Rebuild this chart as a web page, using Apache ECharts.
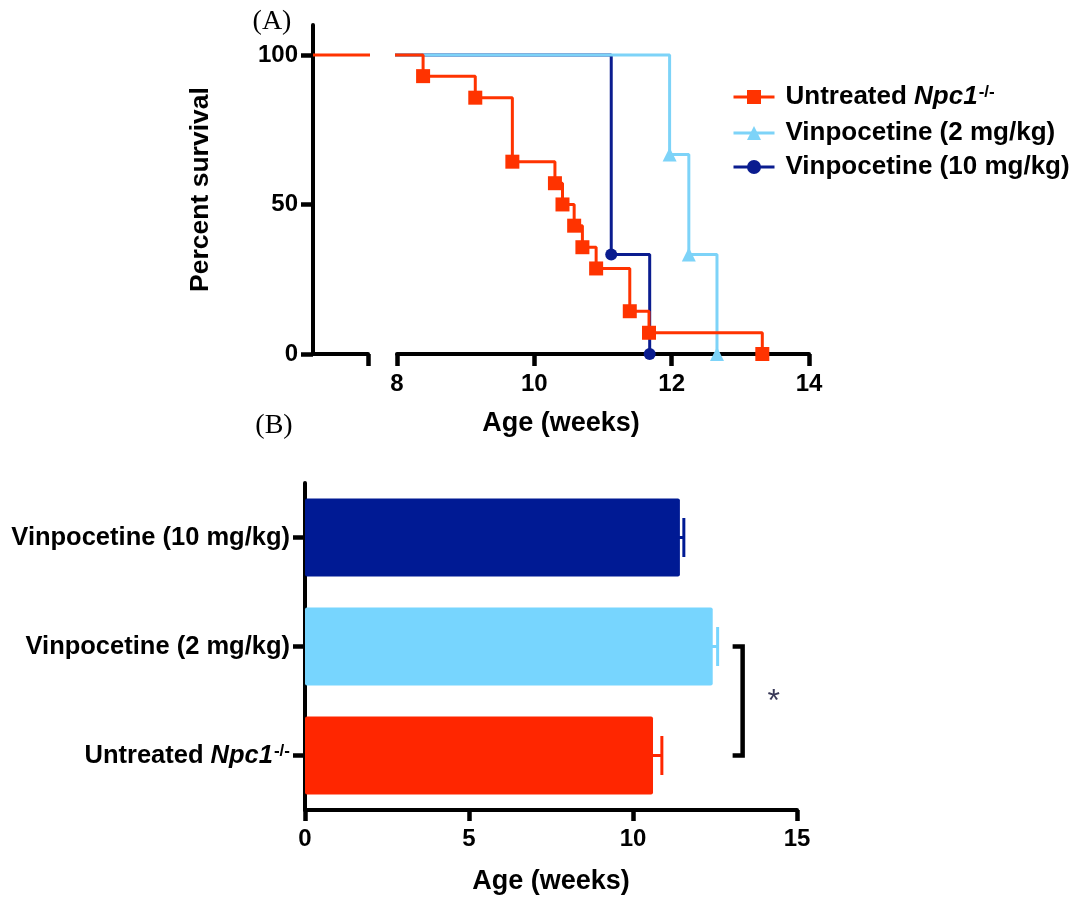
<!DOCTYPE html>
<html><head><meta charset="utf-8">
<script src="https://cdn.jsdelivr.net/npm/echarts@6/dist/echarts.min.js"></script>
<style>html,body{margin:0;padding:0;background:#fff}#c{width:1083px;height:897px}</style>
</head><body><div id="c"></div>
<script>
// ---- data ----
const groupNames = ['Untreated Npc1-/-', 'Vinpocetine (2 mg/kg)', 'Vinpocetine (10 mg/kg)'];
// Kaplan-Meier survival: [age (weeks), percent surviving]
const survivalUntreated = [[0,100],[8.38,92.9],[9.14,85.7],[9.68,64.3],[10.30,57.1],[10.41,50],[10.58,42.9],[10.70,35.7],[10.90,28.6],[11.39,14.3],[11.67,7.1],[13.32,0]];
const survival2mg = [[0,100],[11.97,66.7],[12.25,33.3],[12.66,0]];
const survival10mg = [[0,100],[11.12,33.3],[11.68,0]];
const survivalTicks = [0, 50, 100];
// mean age at death (weeks) and SEM, same order as groupNames
const meanAge = [10.61, 12.43, 11.43];
const semAge = [0.27, 0.15, 0.12];
// significance: [group index A, group index B, label]
const significance = [[0, 1, '*']];

// ---- styles ----
const FONT = '"Liberation Sans", Arial, Helvetica, sans-serif';
const SERIF = '"Liberation Serif", "Times New Roman", serif';
const lineColors = ['#FF3300', '#7DD3F8', '#0A1C8F'];
const barColors = ['#FF2600', '#77D5FE', '#001A94'];
const symbols = ['rect', 'triangle', 'circle'];
const symbolSizes = [14, 14, 12];

function richName(name) {
  if (name.indexOf('Npc1') >= 0) return '{b|Untreated }{i|Npc1}{s|-/-}';
  return '{b|' + name + '}';
}
function richStyles(size) {
  return {
    b: {fontSize: size, fontWeight: 'bold', fontFamily: FONT, color: '#000', lineHeight: size + 4},
    i: {fontSize: size, fontWeight: 'bold', fontStyle: 'italic', fontFamily: FONT, color: '#000', lineHeight: size + 4},
    s: {fontSize: Math.round(size * 0.66), fontWeight: 'bold', fontFamily: FONT, color: '#000', lineHeight: Math.round(size * 0.66), verticalAlign: 'top', padding: [2, 0, 0, 1]}
  };
}
const axisLine = {show: true, lineStyle: {color: '#000', width: 4}};
const tickStyle = () => ({color: '#000', width: 4.5});
const labelStyle = {color: '#000', fontSize: 24, fontWeight: 'bold', fontFamily: FONT};

function kmData(arr) {
  return arr.map((p, i) => i === 0 ? {value: p, symbol: 'none'} : {value: p});
}
const survivalSets = [survivalUntreated, survival2mg, survival10mg];
const drawOrder = [2, 1, 0];

const lineSeries = drawOrder.map(k => ({
  name: groupNames[k], type: 'line', step: 'end', xAxisIndex: 1, yAxisIndex: 1,
  data: kmData(survivalSets[k]), symbol: symbols[k], symbolSize: symbolSizes[k],
  lineStyle: {color: lineColors[k], width: 3}, itemStyle: {color: lineColors[k]},
  clip: true, z: 3 + (2 - k)
}));
lineSeries.push({
  name: groupNames[0], type: 'line', step: 'end', xAxisIndex: 0, yAxisIndex: 0,
  data: survivalUntreated, symbol: 'none', lineStyle: {color: lineColors[0], width: 3},
  itemStyle: {color: lineColors[0]}, clip: true, z: 5
});

const chart = echarts.init(document.getElementById('c'), null, {renderer: 'canvas'});
const option = {
  animation: false,
  backgroundColor: '#fff',
  textStyle: {fontFamily: FONT},
  grid: [
    {left: 313, top: 25, width: 55, height: 329},
    {left: 397, top: 25, width: 412, height: 329},
    {left: 305, top: 483, width: 492, height: 327}
  ],
  legend: groupNames.map((n, k) => ({
    data: [n], orient: 'vertical', left: 727, top: [77, 115, 149][k],
    itemWidth: 41, itemHeight: 17.5, itemGap: 0, selectedMode: false,
    lineStyle: {width: 3},
    formatter: richName,
    textStyle: {padding: [0, 0, 0, 6], rich: richStyles(26)}
  })),
  xAxis: [
    {gridIndex: 0, type: 'value', min: 0, max: 1, axisLine: axisLine,
     axisTick: {show: true, customValues: [1], length: 12, lineStyle: tickStyle()},
     axisLabel: {show: false}, splitLine: {show: false}},
    {gridIndex: 1, type: 'value', min: 8, max: 14, interval: 2, axisLine: axisLine,
     axisTick: {show: true, length: 12, lineStyle: tickStyle()},
     axisLabel: Object.assign({margin: 18}, labelStyle), splitLine: {show: false}},
    {gridIndex: 2, type: 'value', min: 0, max: 15, interval: 5, axisLine: axisLine,
     axisTick: {show: true, length: 11, lineStyle: tickStyle()},
     axisLabel: Object.assign({margin: 17}, labelStyle), splitLine: {show: false},
     name: 'Age (weeks)', nameLocation: 'middle', nameGap: 58,
     nameTextStyle: {color: '#000', fontSize: 27, fontWeight: 'bold', fontFamily: FONT}}
  ],
  yAxis: [
    {gridIndex: 0, type: 'value', min: 0, max: 110, axisLine: axisLine,
     axisTick: {show: true, customValues: survivalTicks, length: 12, lineStyle: tickStyle()},
     axisLabel: Object.assign({margin: 15, customValues: survivalTicks}, labelStyle),
     splitLine: {show: false},
     name: 'Percent survival', nameLocation: 'middle', nameGap: 99,
     nameTextStyle: {color: '#000', fontSize: 26.5, fontWeight: 'bold', fontFamily: FONT}},
    {gridIndex: 1, type: 'value', min: 0, max: 110, show: false, splitLine: {show: false}},
    {gridIndex: 2, type: 'category', data: groupNames, axisLine: axisLine,
     axisTick: {show: true, alignWithLabel: true, length: 12, lineStyle: tickStyle()},
     axisLabel: {margin: 15, formatter: richName, rich: richStyles(25.5)}, splitLine: {show: false}}
  ],
  graphic: [
    {type: 'text', style: {text: '(A)', x: 272, y: 22, align: 'center', verticalAlign: 'middle', fontSize: 28, fontFamily: SERIF, fill: '#000'}},
    {type: 'text', style: {text: '(B)', x: 274, y: 426, align: 'center', verticalAlign: 'middle', fontSize: 28, fontFamily: SERIF, fill: '#000'}},
    {type: 'text', style: {text: 'Age (weeks)', x: 561, y: 424, align: 'center', verticalAlign: 'middle', fontSize: 27, fontWeight: 'bold', fontFamily: FONT, fill: '#000'}}
  ],
  series: lineSeries.concat([
    {type: 'bar', xAxisIndex: 2, yAxisIndex: 2, barWidth: 78,
     data: meanAge.map((v, i) => ({value: v, itemStyle: {color: barColors[i], borderRadius: 2}})), z: 2},
    {type: 'custom', xAxisIndex: 2, yAxisIndex: 2, z: 3,
     data: meanAge.map((m, i) => [m, i, m + semAge[i]]),
     encode: {x: [0, 2], y: 1},
     renderItem: function (params, api) {
       const i = api.value(1);
       const p0 = api.coord([api.value(0), i]);
       const p1 = api.coord([api.value(2), i]);
       const c = barColors[params.dataIndex];
       return {type: 'group', children: [
         {type: 'line', shape: {x1: p0[0] - 3, y1: p0[1], x2: p1[0], y2: p1[1]}, style: {stroke: c, lineWidth: 3}},
         {type: 'line', shape: {x1: p1[0], y1: p1[1] - 19.5, x2: p1[0], y2: p1[1] + 19.5}, style: {stroke: c, lineWidth: 3}}
       ]};
     }},
    {type: 'custom', xAxisIndex: 2, yAxisIndex: 2, z: 3,
     data: significance.map(s => [Math.max(meanAge[s[0]] + semAge[s[0]], meanAge[s[1]] + semAge[s[1]]), s[0], s[1]]),
     encode: {x: 0, y: [1, 2]},
     renderItem: function (params, api) {
       const pa = api.coord([api.value(0), api.value(1)]);
       const pb = api.coord([api.value(0), api.value(2)]);
       const bx = Math.max(pa[0], pb[0]) + 25;
       const label = significance[params.dataIndex][2];
       return {type: 'group', children: [
         {type: 'polyline', shape: {points: [[bx - 10, pa[1]], [bx, pa[1]], [bx, pb[1]], [bx - 10, pb[1]]]},
          style: {stroke: '#000', lineWidth: 4.5, fill: null}},
         {type: 'text', style: {text: label, x: bx + 31, y: (pa[1] + pb[1]) / 2 + 1, align: 'center', verticalAlign: 'middle',
          fontSize: 32, fontFamily: FONT, fill: '#3A3A58'}}
       ]};
     }}
  ])
};
chart.setOption(option);
</script>
</body></html>
